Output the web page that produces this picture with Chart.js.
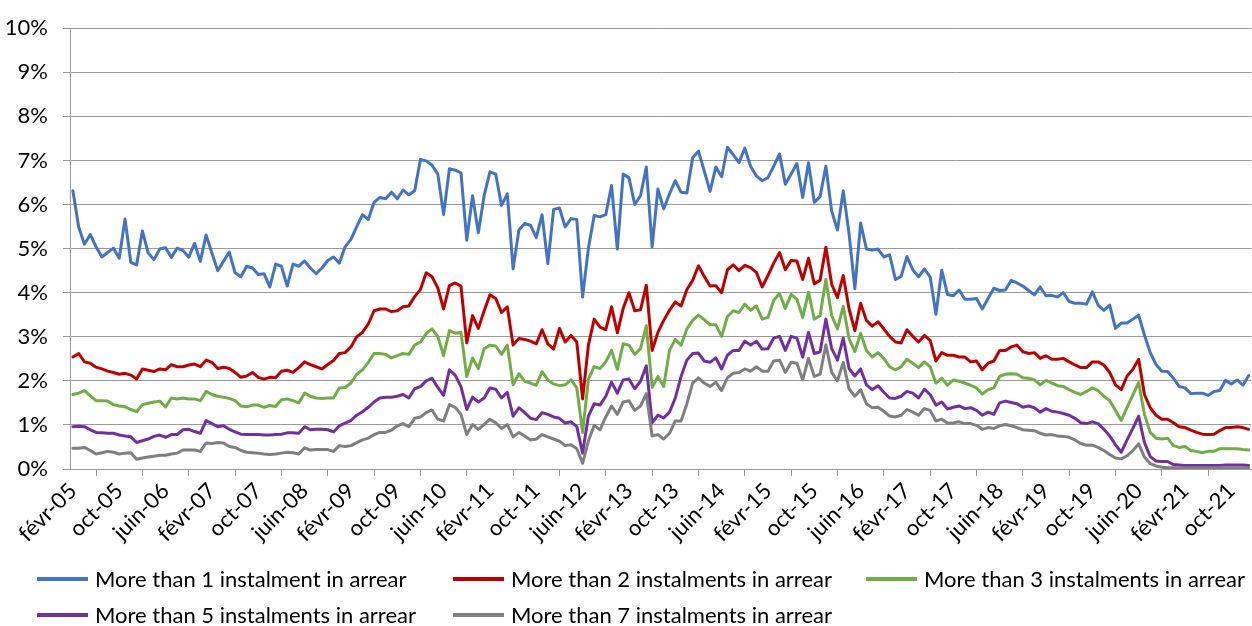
<!DOCTYPE html>
<html>
<head>
<meta charset="utf-8">
<script src="https://cdn.jsdelivr.net/npm/chart.js@4.4.1/dist/chart.umd.min.js"></script>
<style>
  html, body { margin: 0; padding: 0; background: #ffffff; }
  #wrap { width: 1252px; height: 626px; }
</style>
</head>
<body>
<div id="wrap"><canvas id="c" width="1252" height="626"></canvas></div>
<script>
// ---- Data ----
const MONTHS = ['janv', 'févr', 'mars', 'avr', 'mai', 'juin', 'juil', 'août', 'sept', 'oct', 'nov', 'déc'];
const START_MONTH = 1;   // févr
const START_YEAR = 2005;
const N_POINTS = 204;    // févr-05 .. janv-22
const categories = [];
for (let i = 0; i < N_POINTS; i++) {
  const m = (START_MONTH + i) % 12;
  const y = START_YEAR + Math.floor((START_MONTH + i) / 12);
  categories.push(MONTHS[m] + '-' + String(y % 100).padStart(2, '0'));
}
const LABEL_EVERY = 8;

const seriesNames = [
  'More than 1 instalment in arrear',
  'More than 2 instalments in arrear',
  'More than 3 instalments in arrear',
  'More than 5 instalments in arrear',
  'More than 7 instalments in arrear'
];

const more1 = [
6.31,5.49,5.10,5.32,5.04,4.81,4.91,5.01,4.78,5.67,4.69,4.63,5.40,4.90,4.75,4.99,5.02,4.80,5.01,4.96,
4.80,5.12,4.71,5.31,4.90,4.50,4.71,4.92,4.45,4.36,4.60,4.56,4.41,4.43,4.13,4.65,4.60,4.15,4.65,4.60,
4.72,4.56,4.43,4.56,4.73,4.81,4.67,5.04,5.21,5.50,5.77,5.66,6.05,6.16,6.13,6.28,6.13,6.33,6.22,6.31,
7.02,6.99,6.89,6.69,5.77,6.81,6.78,6.72,5.19,6.20,5.36,6.20,6.74,6.69,5.98,6.24,4.54,5.42,5.57,5.53,
5.25,5.77,4.66,5.89,5.92,5.49,5.68,5.66,3.90,5.01,5.75,5.72,5.77,6.43,4.99,6.69,6.61,6.00,6.20,6.85,
5.04,6.35,5.90,6.24,6.54,6.28,6.26,7.06,7.21,6.76,6.30,6.85,6.63,7.30,7.13,6.95,7.28,6.87,6.65,6.54,
6.61,6.87,7.15,6.46,6.69,6.93,6.16,6.95,6.05,6.18,6.87,5.85,5.42,6.31,5.34,4.09,5.58,4.99,4.97,4.99,
4.81,4.86,4.30,4.37,4.82,4.52,4.36,4.54,4.36,3.51,4.51,3.96,3.93,4.06,3.85,3.85,3.87,3.63,3.87,4.10,
4.05,4.06,4.28,4.22,4.15,4.05,3.95,4.13,3.93,3.94,3.90,4.00,3.80,3.76,3.76,3.74,4.02,3.72,3.60,3.72,
3.19,3.31,3.31,3.40,3.49,3.04,2.64,2.37,2.22,2.21,2.06,1.87,1.84,1.71,1.72,1.72,1.67,1.76,1.78,2.01,
1.93,2.02,1.90,2.12
];

const more2 = [
2.54,2.62,2.43,2.40,2.31,2.27,2.22,2.19,2.15,2.17,2.13,2.04,2.27,2.24,2.21,2.27,2.25,2.37,2.32,2.32,
2.36,2.38,2.32,2.47,2.42,2.28,2.31,2.28,2.19,2.08,2.11,2.19,2.08,2.04,2.08,2.07,2.22,2.24,2.19,2.30,
2.43,2.37,2.32,2.27,2.37,2.46,2.62,2.64,2.77,3.00,3.10,3.29,3.59,3.63,3.63,3.57,3.59,3.68,3.70,3.91,
4.07,4.45,4.36,4.11,3.63,4.16,4.22,4.15,2.86,3.48,3.19,3.59,3.95,3.87,3.55,3.68,2.81,2.96,2.94,2.90,
2.84,3.16,2.84,2.72,3.19,2.88,3.03,2.88,1.59,2.81,3.40,3.22,3.16,3.68,3.09,3.64,4.00,3.59,3.61,4.17,
2.69,3.10,3.37,3.60,3.79,3.70,4.07,4.28,4.61,4.37,4.15,4.16,4.00,4.52,4.63,4.50,4.62,4.57,4.46,4.13,
4.39,4.67,4.91,4.52,4.73,4.72,4.30,4.78,4.20,4.28,5.03,4.19,3.89,4.39,3.63,3.14,3.76,3.37,3.24,3.34,
3.18,3.01,2.88,2.86,3.16,3.01,2.88,3.03,2.92,2.45,2.64,2.58,2.58,2.54,2.54,2.43,2.45,2.25,2.40,2.45,
2.69,2.69,2.77,2.81,2.66,2.62,2.64,2.51,2.57,2.49,2.49,2.51,2.43,2.36,2.30,2.30,2.43,2.43,2.36,2.19,
1.91,1.80,2.11,2.26,2.49,1.69,1.39,1.22,1.13,1.13,1.05,0.96,0.94,0.88,0.83,0.79,0.78,0.79,0.87,0.94,
0.94,0.96,0.94,0.90
];

const more3 = [
1.69,1.72,1.78,1.66,1.55,1.55,1.54,1.46,1.43,1.41,1.35,1.30,1.46,1.49,1.52,1.54,1.41,1.61,1.59,1.61,
1.59,1.59,1.55,1.76,1.69,1.65,1.63,1.60,1.55,1.43,1.41,1.45,1.45,1.40,1.44,1.42,1.57,1.59,1.55,1.50,
1.72,1.65,1.61,1.60,1.61,1.61,1.84,1.85,1.95,2.15,2.25,2.42,2.62,2.62,2.60,2.52,2.57,2.62,2.60,2.81,
2.88,3.07,3.18,3.01,2.57,3.14,3.08,3.10,2.10,2.52,2.28,2.73,2.81,2.79,2.60,2.81,1.91,2.16,1.99,1.95,
1.90,2.21,2.02,1.93,1.89,1.91,2.02,1.84,0.83,2.04,2.32,2.28,2.43,2.69,2.26,2.84,2.81,2.60,2.73,3.25,
1.85,2.10,1.87,2.69,2.94,2.81,3.18,3.37,3.49,3.39,3.27,3.27,3.01,3.46,3.59,3.55,3.74,3.60,3.70,3.40,
3.44,3.83,3.98,3.64,3.96,3.85,3.44,4.01,3.40,3.48,4.30,3.48,3.18,3.69,2.96,2.66,3.08,2.69,2.54,2.64,
2.51,2.32,2.25,2.32,2.49,2.40,2.30,2.43,2.32,1.95,2.06,1.90,2.02,1.99,1.95,1.90,1.84,1.70,1.80,1.84,
2.10,2.15,2.16,2.15,2.07,2.06,2.02,1.91,2.01,1.95,1.89,1.87,1.80,1.74,1.69,1.76,1.84,1.78,1.65,1.55,
1.33,1.10,1.40,1.68,1.96,1.24,0.83,0.70,0.68,0.70,0.53,0.49,0.51,0.42,0.40,0.37,0.40,0.40,0.46,0.46,
0.46,0.46,0.44,0.43
];

const more5 = [
0.96,0.97,0.96,0.89,0.83,0.82,0.81,0.81,0.77,0.75,0.73,0.60,0.64,0.68,0.74,0.77,0.72,0.78,0.78,0.89,
0.90,0.85,0.81,1.10,1.03,0.96,0.98,0.90,0.84,0.79,0.78,0.78,0.78,0.77,0.77,0.78,0.79,0.82,0.82,0.81,
0.96,0.89,0.90,0.90,0.89,0.84,0.98,1.04,1.10,1.22,1.30,1.40,1.52,1.61,1.63,1.63,1.65,1.69,1.61,1.82,
1.87,2.00,2.06,1.85,1.67,2.25,2.13,1.87,1.35,1.63,1.52,1.61,1.84,1.81,1.61,1.74,1.20,1.39,1.28,1.15,
1.12,1.28,1.24,1.18,1.15,1.04,1.07,0.96,0.36,1.20,1.48,1.45,1.65,1.97,1.72,2.02,2.04,1.82,1.99,2.34,
1.05,1.22,1.16,1.29,1.61,2.10,2.47,2.62,2.63,2.45,2.42,2.52,2.27,2.58,2.69,2.69,2.90,2.81,2.90,2.72,
2.73,2.97,3.01,2.69,3.01,2.97,2.54,3.10,2.62,2.66,3.40,2.73,2.47,2.97,2.28,2.11,2.27,1.91,1.80,1.89,
1.74,1.61,1.60,1.65,1.76,1.72,1.61,1.81,1.69,1.45,1.52,1.36,1.40,1.43,1.37,1.39,1.33,1.22,1.29,1.24,
1.50,1.54,1.51,1.48,1.40,1.43,1.39,1.29,1.37,1.31,1.29,1.26,1.22,1.15,1.05,1.03,1.07,1.03,0.90,0.75,
0.55,0.38,0.66,0.92,1.20,0.60,0.28,0.18,0.17,0.17,0.10,0.09,0.08,0.08,0.08,0.08,0.08,0.08,0.08,0.09,
0.09,0.09,0.09,0.08
];

const more7 = [
0.47,0.47,0.49,0.42,0.34,0.37,0.40,0.38,0.34,0.36,0.37,0.22,0.25,0.27,0.29,0.31,0.31,0.34,0.36,0.43,
0.43,0.43,0.40,0.59,0.58,0.60,0.59,0.51,0.49,0.42,0.38,0.37,0.36,0.34,0.33,0.34,0.36,0.38,0.37,0.34,
0.48,0.43,0.44,0.44,0.44,0.40,0.53,0.51,0.53,0.60,0.66,0.70,0.78,0.83,0.83,0.88,0.98,1.03,0.96,1.15,
1.18,1.28,1.34,1.13,1.09,1.46,1.40,1.24,0.78,1.01,0.90,1.01,1.13,1.05,0.92,1.01,0.73,0.83,0.75,0.66,
0.68,0.78,0.73,0.68,0.63,0.53,0.55,0.46,0.13,0.64,0.99,0.89,1.18,1.43,1.24,1.52,1.55,1.33,1.43,1.71,
0.75,0.78,0.68,0.81,1.09,1.09,1.48,1.95,2.07,1.95,1.87,1.97,1.78,2.07,2.17,2.19,2.27,2.22,2.32,2.22,
2.22,2.45,2.47,2.19,2.42,2.40,2.02,2.51,2.10,2.15,2.82,2.19,2.00,2.42,1.82,1.65,1.80,1.48,1.39,1.40,
1.31,1.20,1.18,1.22,1.35,1.29,1.22,1.37,1.33,1.09,1.13,1.04,1.05,1.07,1.03,1.03,0.99,0.90,0.94,0.92,
0.98,1.01,0.98,0.94,0.89,0.88,0.87,0.81,0.77,0.78,0.75,0.74,0.72,0.66,0.58,0.54,0.54,0.49,0.42,0.33,
0.25,0.23,0.30,0.42,0.57,0.27,0.12,0.07,0.04,0.03,0.03,0.03,0.03,0.03,0.03,0.03,0.03,0.03,0.03,0.03,
0.03,0.03,0.03,0.03
];

const yTicks = [0, 1, 2, 3, 4, 5, 6, 7, 8, 9, 10];

// ---- Styles ----
const COLORS = ['#4472C4', '#C00000', '#70AD47', '#7030A0', '#7F7F7F'];
const FONT = 'Lato';
const TICK_SIZE = 22;
const LEGEND_SIZE = 22;
const TEXT = '#000000';
const GRID = '#9a9a9a';

const seriesValues = [more1, more2, more3, more5, more7];
const datasets = seriesValues.map((vals, k) => ({
  label: seriesNames[k],
  data: vals,
  borderColor: COLORS[k],
  backgroundColor: COLORS[k],
  borderWidth: 3,
  pointRadius: 0,
  pointHoverRadius: 0,
  tension: 0,
  borderJoinStyle: 'round',
  borderCapStyle: 'round',
  order: 5 - k
}));

// custom legend laid out like the original (grid of 3 columns)
const legendPlugin = {
  id: 'gridLegend',
  afterDraw(chart) {
    const ctx = chart.ctx;
    const colX = [37, 453, 866];
    const rowY = [579, 615];
    ctx.save();
    ctx.font = LEGEND_SIZE + 'px ' + FONT;
    ctx.textBaseline = 'middle';
    ctx.textAlign = 'left';
    chart.data.datasets.forEach((ds, k) => {
      const x = colX[k % 3];
      const y = rowY[Math.floor(k / 3)];
      ctx.strokeStyle = ds.borderColor;
      ctx.lineWidth = 4;
      ctx.lineCap = 'butt';
      ctx.beginPath();
      ctx.moveTo(x, y);
      ctx.lineTo(x + 51, y);
      ctx.stroke();
      ctx.fillStyle = TEXT;
      ctx.fillText(ds.label, x + 58, y + 1);
    });
    ctx.restore();
  }
};

new Chart(document.getElementById('c'), {
  type: 'line',
  data: { labels: categories, datasets },
  plugins: [legendPlugin],
  options: {
    responsive: false,
    animation: false,
    devicePixelRatio: 1,
    layout: { padding: { top: 22, right: 0, bottom: 0, left: 0 } },
    plugins: {
      legend: { display: false },
      tooltip: { enabled: false },
      title: { display: false }
    },
    scales: {
      x: {
        type: 'category',
        offset: true,
        afterFit(scale) { scale.height = 157; },
        grid: {
          offset: true,
          drawOnChartArea: false,
          drawTicks: true,
          tickLength: 7,
          tickColor: GRID,
          color: GRID
        },
        border: { display: true, color: GRID, width: 1 },
        ticks: {
          autoSkip: false,
          maxRotation: 45,
          minRotation: 45,
          padding: 2,
          color: TEXT,
          font: { family: FONT, size: TICK_SIZE },
          callback: (v, i) => (i % LABEL_EVERY === 0 ? categories[i] : null)
        }
      },
      y: {
        min: yTicks[0],
        max: yTicks[yTicks.length - 1],
        afterFit(scale) { scale.width = 70; },
        afterBuildTicks(scale) { scale.ticks = yTicks.map(v => ({ value: v })); },
        grid: {
          color: GRID,
          lineWidth: 1,
          drawTicks: true,
          tickLength: 7,
          tickColor: GRID
        },
        border: { display: true, color: GRID, width: 1 },
        ticks: {
          padding: 15,
          color: TEXT,
          font: { family: FONT, size: TICK_SIZE },
          callback: v => v + '%'
        }
      }
    }
  }
});
</script>
</body>
</html>
